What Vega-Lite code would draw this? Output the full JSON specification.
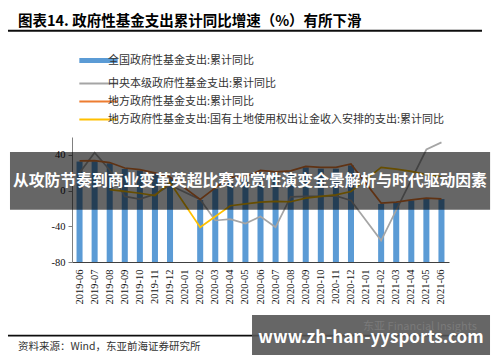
{
  "$schema": "https://vega.github.io/schema/vega-lite/v6.json",
  "autosize": {"type": "none"},
  "padding": {"left": 72, "top": 137, "right": 51, "bottom": 100},
  "width": 377,
  "height": 125,
  "background": "white",
  "config": {"view": {"stroke": null}, "font": "Noto Sans CJK SC"},
  "datasets": {
    "bars": [
      {"m": "2019-06", "s": "全国政府性基金支出:累计同比", "v": 32.5},
      {"m": "2019-07", "s": "全国政府性基金支出:累计同比", "v": 32.8},
      {"m": "2019-08", "s": "全国政府性基金支出:累计同比", "v": 30.5},
      {"m": "2019-09", "s": "全国政府性基金支出:累计同比", "v": 24.2},
      {"m": "2019-10", "s": "全国政府性基金支出:累计同比", "v": 22.5},
      {"m": "2019-11", "s": "全国政府性基金支出:累计同比", "v": 19.2},
      {"m": "2019-12", "s": "全国政府性基金支出:累计同比", "v": 13.9},
      {"m": "2020-02", "s": "全国政府性基金支出:累计同比", "v": -10.6},
      {"m": "2020-03", "s": "全国政府性基金支出:累计同比", "v": 2.0},
      {"m": "2020-04", "s": "全国政府性基金支出:累计同比", "v": 13.0},
      {"m": "2020-05", "s": "全国政府性基金支出:累计同比", "v": 13.5},
      {"m": "2020-06", "s": "全国政府性基金支出:累计同比", "v": 20.5},
      {"m": "2020-07", "s": "全国政府性基金支出:累计同比", "v": 19.5},
      {"m": "2020-08", "s": "全国政府性基金支出:累计同比", "v": 20.0},
      {"m": "2020-09", "s": "全国政府性基金支出:累计同比", "v": 26.0},
      {"m": "2020-10", "s": "全国政府性基金支出:累计同比", "v": 24.5},
      {"m": "2020-11", "s": "全国政府性基金支出:累计同比", "v": 24.5},
      {"m": "2020-12", "s": "全国政府性基金支出:累计同比", "v": 28.2},
      {"m": "2021-02", "s": "全国政府性基金支出:累计同比", "v": -15.0},
      {"m": "2021-03", "s": "全国政府性基金支出:累计同比", "v": -13.5},
      {"m": "2021-04", "s": "全国政府性基金支出:累计同比", "v": -11.0},
      {"m": "2021-05", "s": "全国政府性基金支出:累计同比", "v": -9.0},
      {"m": "2021-06", "s": "全国政府性基金支出:累计同比", "v": -9.5}
    ],
    "lines": [
      {"m": "2019-06", "s": "中央本级政府性基金支出:累计同比", "v": 20.0},
      {"m": "2019-07", "s": "中央本级政府性基金支出:累计同比", "v": 42.5},
      {"m": "2019-08", "s": "中央本级政府性基金支出:累计同比", "v": 23.0},
      {"m": "2019-09", "s": "中央本级政府性基金支出:累计同比", "v": -6.5},
      {"m": "2019-10", "s": "中央本级政府性基金支出:累计同比", "v": -9.5},
      {"m": "2019-11", "s": "中央本级政府性基金支出:累计同比", "v": -4.0},
      {"m": "2019-12", "s": "中央本级政府性基金支出:累计同比", "v": 6.0},
      {"m": "2020-02", "s": "中央本级政府性基金支出:累计同比", "v": -10.0},
      {"m": "2020-03", "s": "中央本级政府性基金支出:累计同比", "v": -33.5},
      {"m": "2020-04", "s": "中央本级政府性基金支出:累计同比", "v": -32.0},
      {"m": "2020-05", "s": "中央本级政府性基金支出:累计同比", "v": -37.0},
      {"m": "2020-06", "s": "中央本级政府性基金支出:累计同比", "v": -29.0},
      {"m": "2020-07", "s": "中央本级政府性基金支出:累计同比", "v": -41.0},
      {"m": "2020-08", "s": "中央本级政府性基金支出:累计同比", "v": -7.0},
      {"m": "2020-09", "s": "中央本级政府性基金支出:累计同比", "v": -6.5},
      {"m": "2020-10", "s": "中央本级政府性基金支出:累计同比", "v": -6.5},
      {"m": "2020-11", "s": "中央本级政府性基金支出:累计同比", "v": -6.0},
      {"m": "2020-12", "s": "中央本级政府性基金支出:累计同比", "v": -11.0},
      {"m": "2021-02", "s": "中央本级政府性基金支出:累计同比", "v": -56.0},
      {"m": "2021-03", "s": "中央本级政府性基金支出:累计同比", "v": -22.0},
      {"m": "2021-04", "s": "中央本级政府性基金支出:累计同比", "v": 12.0},
      {"m": "2021-05", "s": "中央本级政府性基金支出:累计同比", "v": 46.0},
      {"m": "2021-06", "s": "中央本级政府性基金支出:累计同比", "v": 54.0},
      {"m": "2019-06", "s": "地方政府性基金支出:累计同比", "v": 33.3},
      {"m": "2019-07", "s": "地方政府性基金支出:累计同比", "v": 33.6},
      {"m": "2019-08", "s": "地方政府性基金支出:累计同比", "v": 31.4},
      {"m": "2019-09", "s": "地方政府性基金支出:累计同比", "v": 25.3},
      {"m": "2019-10", "s": "地方政府性基金支出:累计同比", "v": 23.5},
      {"m": "2019-11", "s": "地方政府性基金支出:累计同比", "v": 19.8},
      {"m": "2019-12", "s": "地方政府性基金支出:累计同比", "v": 15.2},
      {"m": "2020-02", "s": "地方政府性基金支出:累计同比", "v": -9.8},
      {"m": "2020-03", "s": "地方政府性基金支出:累计同比", "v": 3.0},
      {"m": "2020-04", "s": "地方政府性基金支出:累计同比", "v": 15.0},
      {"m": "2020-05", "s": "地方政府性基金支出:累计同比", "v": 15.3},
      {"m": "2020-06", "s": "地方政府性基金支出:累计同比", "v": 22.5},
      {"m": "2020-07", "s": "地方政府性基金支出:累计同比", "v": 21.0},
      {"m": "2020-08", "s": "地方政府性基金支出:累计同比", "v": 22.0},
      {"m": "2020-09", "s": "地方政府性基金支出:累计同比", "v": 27.0},
      {"m": "2020-10", "s": "地方政府性基金支出:累计同比", "v": 26.0},
      {"m": "2020-11", "s": "地方政府性基金支出:累计同比", "v": 26.0},
      {"m": "2020-12", "s": "地方政府性基金支出:累计同比", "v": 29.8},
      {"m": "2021-02", "s": "地方政府性基金支出:累计同比", "v": -14.0},
      {"m": "2021-03", "s": "地方政府性基金支出:累计同比", "v": -13.0},
      {"m": "2021-04", "s": "地方政府性基金支出:累计同比", "v": -10.5},
      {"m": "2021-05", "s": "地方政府性基金支出:累计同比", "v": -8.5},
      {"m": "2021-06", "s": "地方政府性基金支出:累计同比", "v": -9.2},
      {"m": "2019-08", "s": "地方政府性基金支出:国有土地使用权出让金收入安排的支出:累计同比", "v": 1.0},
      {"m": "2019-09", "s": "地方政府性基金支出:国有土地使用权出让金收入安排的支出:累计同比", "v": -1.0},
      {"m": "2019-10", "s": "地方政府性基金支出:国有土地使用权出让金收入安排的支出:累计同比", "v": -3.0},
      {"m": "2019-11", "s": "地方政府性基金支出:国有土地使用权出让金收入安排的支出:累计同比", "v": -5.5},
      {"m": "2019-12", "s": "地方政府性基金支出:国有土地使用权出让金收入安排的支出:累计同比", "v": 9.0},
      {"m": "2020-02", "s": "地方政府性基金支出:国有土地使用权出让金收入安排的支出:累计同比", "v": -41.0},
      {"m": "2020-03", "s": "地方政府性基金支出:国有土地使用权出让金收入安排的支出:累计同比", "v": -29.0},
      {"m": "2020-04", "s": "地方政府性基金支出:国有土地使用权出让金收入安排的支出:累计同比", "v": -17.0},
      {"m": "2020-05", "s": "地方政府性基金支出:国有土地使用权出让金收入安排的支出:累计同比", "v": -15.0},
      {"m": "2020-06", "s": "地方政府性基金支出:国有土地使用权出让金收入安排的支出:累计同比", "v": -13.0},
      {"m": "2020-07", "s": "地方政府性基金支出:国有土地使用权出让金收入安排的支出:累计同比", "v": -12.0},
      {"m": "2020-08", "s": "地方政府性基金支出:国有土地使用权出让金收入安排的支出:累计同比", "v": -12.5},
      {"m": "2020-09", "s": "地方政府性基金支出:国有土地使用权出让金收入安排的支出:累计同比", "v": -8.5},
      {"m": "2020-10", "s": "地方政府性基金支出:国有土地使用权出让金收入安排的支出:累计同比", "v": -6.5},
      {"m": "2020-11", "s": "地方政府性基金支出:国有土地使用权出让金收入安排的支出:累计同比", "v": -4.8},
      {"m": "2020-12", "s": "地方政府性基金支出:国有土地使用权出让金收入安排的支出:累计同比", "v": -1.0},
      {"m": "2021-02", "s": "地方政府性基金支出:国有土地使用权出让金收入安排的支出:累计同比", "v": 26.0},
      {"m": "2021-03", "s": "地方政府性基金支出:国有土地使用权出让金收入安排的支出:累计同比", "v": 24.0},
      {"m": "2021-04", "s": "地方政府性基金支出:国有土地使用权出让金收入安排的支出:累计同比", "v": 21.5},
      {"m": "2021-05", "s": "地方政府性基金支出:国有土地使用权出让金收入安排的支出:累计同比", "v": 18.0},
      {"m": "2021-06", "s": "地方政府性基金支出:国有土地使用权出让金收入安排的支出:累计同比", "v": 15.5}
    ]
  },
  "layer": [
    {
      "layer": [
        {
          "data": {"name": "bars"},
          "mark": {"type": "bar", "width": {"band": 0.4}},
          "encoding": {
            "x": {"field": "m", "type": "ordinal", "scale": {"domain": ["2019-06","2019-07","2019-08","2019-09","2019-10","2019-11","2019-12","2020-01","2020-02","2020-03","2020-04","2020-05","2020-06","2020-07","2020-08","2020-09","2020-10","2020-11","2020-12","2021-01","2021-02","2021-03","2021-04","2021-05","2021-06"], "paddingInner": 0, "paddingOuter": 0},
              "axis": {"title": null, "labelAngle": -90, "ticks": false, "labelFont": "Liberation Serif", "labelFontSize": 10.5, "labelColor": "#111", "labelPadding": 7, "domainColor": "#404040", "labelOverlap": false}},
            "y": {"field": "v", "type": "quantitative", "scale": {"domain": [-80, 60], "nice": false},
              "axis": {"values": [-80, -60, -40, -20, 0, 20, 40, 60], "title": null, "grid": false, "labelFont": "Liberation Serif", "labelFontSize": 10.5, "labelColor": "#111", "tickSize": 4, "tickColor": "#808080", "domainColor": "#808080", "labelPadding": 3, "labelOverlap": false, "labelExpr": "'' + datum.value"}},
            "y2": {"datum": -80},
            "color": {"field": "s", "type": "nominal",
              "scale": {"domain": ["全国政府性基金支出:累计同比", "中央本级政府性基金支出:累计同比", "地方政府性基金支出:累计同比", "地方政府性基金支出:国有土地使用权出让金收入安排的支出:累计同比"], "range": ["#5B9BD5", "#A5A5A5", "#ED7D31", "#FFC000"]},
              "legend": {"orient": "top", "direction": "vertical", "title": null, "symbolType": "stroke", "symbolSize": 1470, "symbolStrokeWidth": 2, "symbolOffset": 21, "labelFont": "Noto Sans CJK SC", "labelFontSize": 11, "labelColor": "#333", "labelLimit": 0, "rowPadding": 6, "offset": 12,
                "encode": {"symbols": {"update": {"strokeWidth": {"signal": "datum.value == '全国政府性基金支出:累计同比' ? 5 : 2"}, "stroke": {"scale": "color", "field": "value"}}}}}
            }
          }
        },
        {
          "data": {"name": "lines"},
          "mark": {"type": "line", "strokeWidth": 1.7},
          "encoding": {
            "x": {"field": "m", "type": "ordinal"},
            "y": {"field": "v", "type": "quantitative"},
            "color": {"field": "s", "type": "nominal"}
          }
        }
      ]
    },
    {
      "layer": [
        {
          "data": {"values": [{"part": "middle banner"}]},
          "mark": {"type": "rect", "color": "#000", "opacity": 0.6, "clip": false},
          "encoding": {
            "x": {"datum": -0.1645, "type": "quantitative", "scale": {"domain": [0, 1]}, "axis": null},
            "x2": {"datum": 1.109},
            "y": {"datum": 43.3, "type": "quantitative"},
            "y2": {"datum": -21.6}
          }
        },
        {
          "data": {"values": [{"label": "从攻防节奏到商业变革英超比赛观赏性演变全景解析与时代驱动因素"}]},
          "mark": {"type": "text", "color": "#fff", "font": "Noto Sans CJK SC", "fontWeight": "bold", "fontSize": 15.8, "align": "center", "baseline": "middle"},
          "encoding": {
            "x": {"datum": 0.472, "type": "quantitative"},
            "y": {"datum": 10.9, "type": "quantitative"},
            "text": {"field": "label"}
          }
        },
        {
          "data": {"values": [{"label": "图表14. 政府性基金支出累计同比增速（%）有所下滑"}]},
          "mark": {"type": "text", "color": "#000", "font": "Noto Sans CJK SC", "fontWeight": "bold", "fontSize": 14.5, "align": "left", "baseline": "middle"},
          "encoding": {
            "x": {"datum": -0.1432, "type": "quantitative"},
            "y": {"datum": 188.8, "type": "quantitative"},
            "text": {"field": "label"}
          }
        },
        {
          "data": {"values": [{"part": "title underline"}]},
          "mark": {"type": "rect", "color": "#000", "opacity": 0.95, "clip": false},
          "encoding": {
            "x": {"datum": -0.1698, "type": "quantitative"},
            "x2": {"datum": 1.0875},
            "y": {"datum": 180.0, "type": "quantitative"},
            "y2": {"datum": 178.0}
          }
        },
        {
          "data": {"values": [{"part": "footer rule"}]},
          "mark": {"type": "rect", "color": "#000", "opacity": 0.95, "clip": false},
          "encoding": {
            "x": {"datum": -0.1698, "type": "quantitative"},
            "x2": {"datum": 1.0875},
            "y": {"datum": -161.5, "type": "quantitative"},
            "y2": {"datum": -163.5}
          }
        },
        {
          "data": {"values": [{"label": "资料来源：Wind，东亚前海证券研究所"}]},
          "mark": {"type": "text", "align": "left", "baseline": "middle", "font": "Noto Sans CJK SC", "fontSize": 10.5, "color": "#333"},
          "encoding": {
            "x": {"datum": -0.1432, "type": "quantitative"},
            "y": {"datum": -175.2, "type": "quantitative"},
            "text": {"field": "label"}
          }
        },
        {
          "data": {"values": [{"part": "watermark box"}]},
          "mark": {"type": "rect", "color": "#555", "opacity": 0.9, "clip": false},
          "encoding": {
            "x": {"datum": 0.4775, "type": "quantitative"},
            "x2": {"datum": 1.1088},
            "y": {"datum": -139.4, "type": "quantitative"},
            "y2": {"datum": -184.1}
          }
        },
        {
          "data": {"values": [{"label": "东亚 Financial Insights"}]},
          "mark": {"type": "text", "align": "center", "baseline": "middle", "font": "Noto Sans CJK SC", "fontSize": 11, "color": "#7a7a7a"},
          "encoding": {
            "x": {"datum": 0.923, "type": "quantitative"},
            "y": {"datum": -152.8, "type": "quantitative"},
            "text": {"field": "label"}
          }
        },
        {
          "data": {"values": [{"label": "www.zh-han-yysports.com"}]},
          "mark": {"type": "text", "align": "center", "baseline": "middle", "font": "Noto Sans CJK SC", "fontWeight": "bold", "fontSize": 17, "color": "#fff"},
          "encoding": {
            "x": {"datum": 0.793, "type": "quantitative"},
            "y": {"datum": -165.1, "type": "quantitative"},
            "text": {"field": "label"}
          }
        }
      ]
    }
  ],
  "resolve": {"scale": {"x": "independent"}}
}
